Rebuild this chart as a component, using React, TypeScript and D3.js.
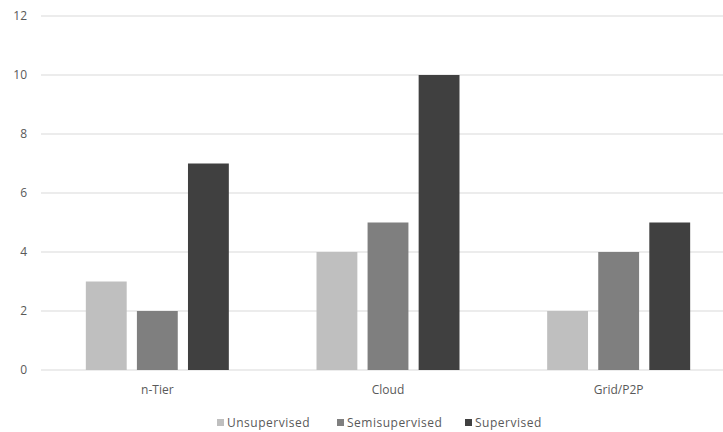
import React from "react";
import * as d3 from "d3";

const categories = ["n-Tier", "Cloud", "Grid/P2P"];
const seriesNames = ["Unsupervised", "Semisupervised", "Supervised"];
const unsupervised = [3, 4, 2];
const semisupervised = [2, 5, 4];
const supervised = [7, 10, 5];
const yTicks = [0, 2, 4, 6, 8, 10, 12];
const seriesColors = ["#bfbfbf", "#7f7f7f", "#404040"];

const W = 723;
const H = 432;
const FONT = "'Open Sans', 'Noto Sans', sans-serif";

export default function App() {
  const series = [unsupervised, semisupervised, supervised];
  const x0 = d3.scaleBand<string>().domain(categories).range([42, 734]).padding(0);
  const groupW = 143;
  const off = (x0.bandwidth() - groupW) / 2;
  const x1 = d3
    .scaleBand<string>()
    .domain(seriesNames)
    .range([off, off + groupW])
    .paddingInner(0.2)
    .paddingOuter(0);
  const y = d3.scaleLinear().domain([0, 12]).range([370, 16]);

  const legendX = [217, 337, 465];

  return (
    <svg
      width={W}
      height={H}
      style={{ position: "absolute", left: 0, top: 0, background: "#fff" }}
      fontFamily={FONT}
    >
      {yTicks.map((t) => (
        <g key={t}>
          <line x1={41} x2={W} y1={y(t)} y2={y(t)} stroke="#d9d9d9" strokeWidth={1} />
          <text x={27} y={y(t)} dy="0.35em" textAnchor="end" fontSize={12} fill="#595959">
            {t}
          </text>
        </g>
      ))}
      {categories.map((c, ci) => (
        <g key={c} transform={`translate(${x0(c)},0)`}>
          {seriesNames.map((s, si) => (
            <rect
              key={s}
              x={x1(s)}
              y={y(series[si][ci])}
              width={x1.bandwidth()}
              height={y(0) - y(series[si][ci])}
              fill={seriesColors[si]}
            />
          ))}
          <text
            x={x0.bandwidth() / 2}
            y={390}
            dy="0.35em"
            textAnchor="middle"
            fontSize={12}
            fill="#595959"
          >
            {c}
          </text>
        </g>
      ))}
      {seriesNames.map((s, si) => (
        <g key={s}>
          <rect x={legendX[si]} y={419} width={7} height={7} fill={seriesColors[si]} />
          <text
            x={legendX[si] + 10}
            y={423}
            dy="0.35em"
            fontSize={12}
            letterSpacing={0.5}
            fill="#595959"
          >
            {s}
          </text>
        </g>
      ))}
    </svg>
  );
}
